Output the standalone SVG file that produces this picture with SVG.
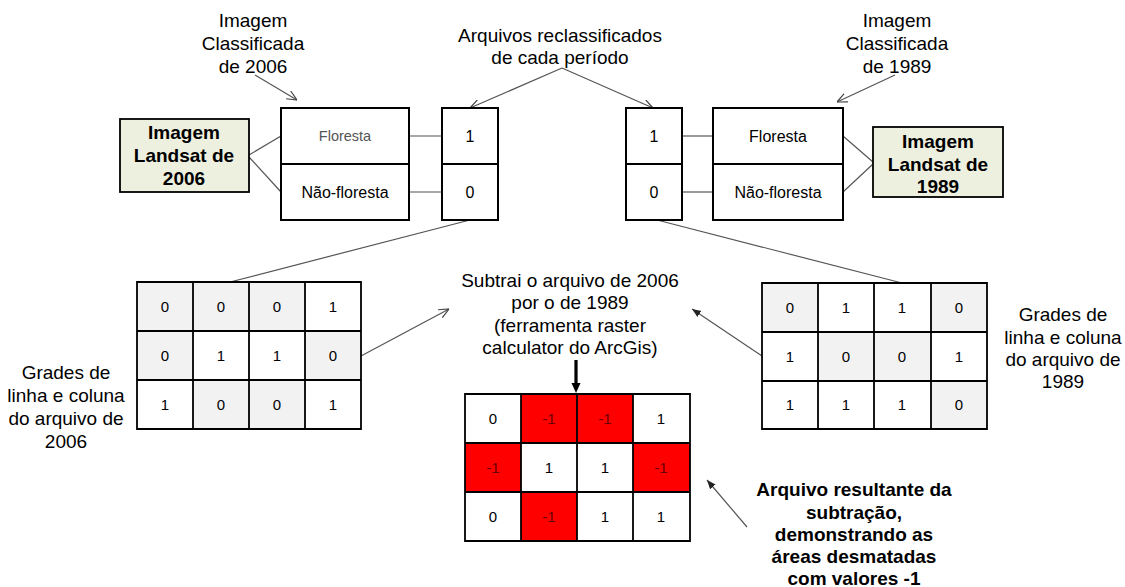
<svg xmlns="http://www.w3.org/2000/svg" width="1125" height="587" viewBox="0 0 1125 587">
<style>
.t{font-family:"Liberation Sans",Arial,sans-serif;font-size:19px;fill:#000;text-anchor:middle}
.b{font-weight:bold}
.s{font-size:16px}
.n{font-size:15px}
.fl{font-size:14.5px;fill:#555}
.box{fill:#fff;stroke:#000;stroke-width:2}
.land{fill:#eef0df;stroke:#000;stroke-width:1.8}
.c{stroke:#000;stroke-width:1.8}
.w{fill:#fff}
.g{fill:#f2f2f2}
.r{fill:#ff0000}
.rt{fill:#6b0000}
.ln{stroke:#555;stroke-width:1.2;fill:none}
</style>
<defs>
<marker id="open" viewBox="0 0 10 10" refX="10" refY="5" markerWidth="10" markerHeight="10" markerUnits="userSpaceOnUse" orient="auto"><path d="M0,0.5 L10,5 L0,9.5" fill="none" stroke="#444" stroke-width="1.2"/></marker>
<marker id="fill" viewBox="0 0 10 10" refX="10" refY="5" markerWidth="9" markerHeight="9" markerUnits="userSpaceOnUse" orient="auto"><path d="M0,1 L10,5 L0,9 z" fill="#222"/></marker>
<marker id="thick" viewBox="0 0 10 10" refX="3" refY="5" markerWidth="10" markerHeight="10" markerUnits="userSpaceOnUse" orient="auto"><path d="M0,0.5 L10,5 L0,9.5 z" fill="#000"/></marker>
</defs>
<rect width="1125" height="587" fill="#fff"/>

<g id="connectors">
<line class="ln" x1="255" y1="75" x2="297" y2="100" marker-end="url(#open)"/>
<line class="ln" x1="895" y1="75" x2="837" y2="102" marker-end="url(#open)"/>
<line class="ln" x1="562" y1="68" x2="470" y2="108" marker-end="url(#open)"/>
<line class="ln" x1="562" y1="68" x2="653" y2="108" marker-end="url(#open)"/>
<line class="ln" x1="249" y1="155" x2="281" y2="136"/>
<line class="ln" x1="249" y1="157" x2="281" y2="192"/>
<line class="ln" x1="409" y1="136" x2="442" y2="136"/>
<line class="ln" x1="409" y1="192" x2="442" y2="192"/>
<line class="ln" x1="682" y1="136" x2="713" y2="136"/>
<line class="ln" x1="682" y1="192" x2="713" y2="192"/>
<line class="ln" x1="843" y1="136" x2="873" y2="162"/>
<line class="ln" x1="843" y1="192" x2="873" y2="164"/>
<line class="ln" x1="470" y1="220" x2="230" y2="282"/>
<line class="ln" x1="657" y1="220" x2="902" y2="283"/>
<line class="ln" x1="361" y1="356" x2="449" y2="309" marker-end="url(#open)"/>
<line class="ln" x1="762" y1="356" x2="692" y2="309" marker-end="url(#fill)"/>
<line class="ln" x1="747" y1="527" x2="707" y2="480" marker-end="url(#fill)"/>
<line x1="576" y1="360" x2="576" y2="386" stroke="#000" stroke-width="3.2" marker-end="url(#thick)"/>
</g>

<g id="label-2006">
<text class="t" x="253" y="27">Imagem</text>
<text class="t" x="253" y="50">Classificada</text>
<text class="t" x="253" y="73">de 2006</text>
</g>
<g id="label-1989">
<text class="t" x="897" y="27">Imagem</text>
<text class="t" x="897" y="50">Classificada</text>
<text class="t" x="897" y="73">de 1989</text>
</g>
<g id="label-reclass">
<text class="t" x="560" y="42">Arquivos reclassificados</text>
<text class="t" x="560" y="64">de cada período</text>
</g>

<g id="landsat-2006">
<rect class="land" x="120" y="119" width="129" height="73"/>
<text class="t b" x="184" y="139">Imagem</text>
<text class="t b" x="184" y="162">Landsat de</text>
<text class="t b" x="184" y="185">2006</text>
</g>
<g id="landsat-1989">
<rect class="land" x="873" y="127" width="130" height="70"/>
<text class="t b" x="938" y="148">Imagem</text>
<text class="t b" x="938" y="171">Landsat de</text>
<text class="t b" x="938" y="193">1989</text>
</g>

<g id="classes-2006">
<rect class="box" x="281" y="108" width="128" height="112"/>
<line class="c" x1="281" y1="164" x2="409" y2="164"/>
<text class="t fl" x="345" y="141">Floresta</text>
<text class="t s" x="345" y="198">Não-floresta</text>
</g>
<g id="codes-2006">
<rect class="box" x="442" y="108" width="56" height="112"/>
<line class="c" x1="442" y1="164" x2="498" y2="164"/>
<text class="t s" x="470" y="142">1</text>
<text class="t s" x="470" y="198">0</text>
</g>
<g id="codes-1989">
<rect class="box" x="626" y="108" width="56" height="112"/>
<line class="c" x1="626" y1="164" x2="682" y2="164"/>
<text class="t s" x="654" y="142">1</text>
<text class="t s" x="654" y="198">0</text>
</g>
<g id="classes-1989">
<rect class="box" x="713" y="108" width="130" height="112"/>
<line class="c" x1="713" y1="164" x2="843" y2="164"/>
<text class="t s" x="778" y="142">Floresta</text>
<text class="t s" x="778" y="198">Não-floresta</text>
</g>

<g id="grid-2006">
<rect class="g" x="137" y="282" width="56" height="49"/>
<rect class="g" x="193" y="282" width="56" height="49"/>
<rect class="g" x="249" y="282" width="56" height="49"/>
<rect class="w" x="305" y="282" width="56" height="49"/>
<rect class="g" x="137" y="331" width="56" height="49"/>
<rect class="w" x="193" y="331" width="56" height="49"/>
<rect class="w" x="249" y="331" width="56" height="49"/>
<rect class="g" x="305" y="331" width="56" height="49"/>
<rect class="w" x="137" y="380" width="56" height="49"/>
<rect class="g" x="193" y="380" width="56" height="49"/>
<rect class="g" x="249" y="380" width="56" height="49"/>
<rect class="w" x="305" y="380" width="56" height="49"/>
<path class="c" fill="none" d="M137,282H361V429H137Z M193,282V429 M249,282V429 M305,282V429 M137,331H361 M137,380H361"/>
<text class="t n" x="165" y="312">0</text><text class="t n" x="221" y="312">0</text><text class="t n" x="277" y="312">0</text><text class="t n" x="333" y="312">1</text>
<text class="t n" x="165" y="361">0</text><text class="t n" x="221" y="361">1</text><text class="t n" x="277" y="361">1</text><text class="t n" x="333" y="361">0</text>
<text class="t n" x="165" y="410">1</text><text class="t n" x="221" y="410">0</text><text class="t n" x="277" y="410">0</text><text class="t n" x="333" y="410">1</text>
</g>
<g id="label-grid-2006">
<text class="t" x="66" y="379">Grades de</text>
<text class="t" x="66" y="402">linha e coluna</text>
<text class="t" x="66" y="425">do arquivo de</text>
<text class="t" x="66" y="448">2006</text>
</g>

<g id="grid-1989">
<rect class="g" x="762" y="283" width="56" height="49"/>
<rect class="w" x="818" y="283" width="56" height="49"/>
<rect class="w" x="874" y="283" width="57" height="49"/>
<rect class="g" x="931" y="283" width="56" height="49"/>
<rect class="w" x="762" y="332" width="56" height="49"/>
<rect class="g" x="818" y="332" width="56" height="49"/>
<rect class="g" x="874" y="332" width="57" height="49"/>
<rect class="w" x="931" y="332" width="56" height="49"/>
<rect class="w" x="762" y="381" width="56" height="48"/>
<rect class="w" x="818" y="381" width="56" height="48"/>
<rect class="w" x="874" y="381" width="57" height="48"/>
<rect class="g" x="931" y="381" width="56" height="48"/>
<path class="c" fill="none" d="M762,283H987V429H762Z M818,283V429 M874,283V429 M931,283V429 M762,332H987 M762,381H987"/>
<text class="t n" x="790" y="313">0</text><text class="t n" x="846" y="313">1</text><text class="t n" x="902" y="313">1</text><text class="t n" x="959" y="313">0</text>
<text class="t n" x="790" y="362">1</text><text class="t n" x="846" y="362">0</text><text class="t n" x="902" y="362">0</text><text class="t n" x="959" y="362">1</text>
<text class="t n" x="790" y="410">1</text><text class="t n" x="846" y="410">1</text><text class="t n" x="902" y="410">1</text><text class="t n" x="959" y="410">0</text>
</g>
<g id="label-grid-1989">
<text class="t" x="1063" y="321">Grades de</text>
<text class="t" x="1063" y="344">linha e coluna</text>
<text class="t" x="1063" y="366">do arquivo de</text>
<text class="t" x="1063" y="388">1989</text>
</g>

<g id="label-subtract">
<text class="t" x="570" y="287">Subtrai o arquivo de 2006</text>
<text class="t" x="570" y="309">por o de 1989</text>
<text class="t" x="570" y="332">(ferramenta raster</text>
<text class="t" x="570" y="354">calculator do ArcGis)</text>
</g>

<g id="grid-result">
<rect class="w" x="465" y="394" width="56" height="49"/>
<rect class="r" x="521" y="394" width="56" height="49"/>
<rect class="r" x="577" y="394" width="56" height="49"/>
<rect class="w" x="633" y="394" width="57" height="49"/>
<rect class="r" x="465" y="443" width="56" height="49"/>
<rect class="w" x="521" y="443" width="56" height="49"/>
<rect class="w" x="577" y="443" width="56" height="49"/>
<rect class="r" x="633" y="443" width="57" height="49"/>
<rect class="w" x="465" y="492" width="56" height="49"/>
<rect class="r" x="521" y="492" width="56" height="49"/>
<rect class="w" x="577" y="492" width="56" height="49"/>
<rect class="w" x="633" y="492" width="57" height="49"/>
<path class="c" fill="none" d="M465,394H690V541H465Z M521,394V541 M577,394V541 M633,394V541 M465,443H690 M465,492H690"/>
<text class="t n" x="493" y="424">0</text><text class="t n rt" x="549" y="424">-1</text><text class="t n rt" x="605" y="424">-1</text><text class="t n" x="661" y="424">1</text>
<text class="t n rt" x="493" y="473">-1</text><text class="t n" x="549" y="473">1</text><text class="t n" x="605" y="473">1</text><text class="t n rt" x="661" y="473">-1</text>
<text class="t n" x="493" y="522">0</text><text class="t n rt" x="549" y="522">-1</text><text class="t n" x="605" y="522">1</text><text class="t n" x="661" y="522">1</text>
</g>

<g id="label-result">
<text class="t b" x="854" y="496">Arquivo resultante da</text>
<text class="t b" x="854" y="519">subtração,</text>
<text class="t b" x="854" y="541">demonstrando as</text>
<text class="t b" x="854" y="563">áreas desmatadas</text>
<text class="t b" x="854" y="585">com valores -1</text>
</g>
</svg>
